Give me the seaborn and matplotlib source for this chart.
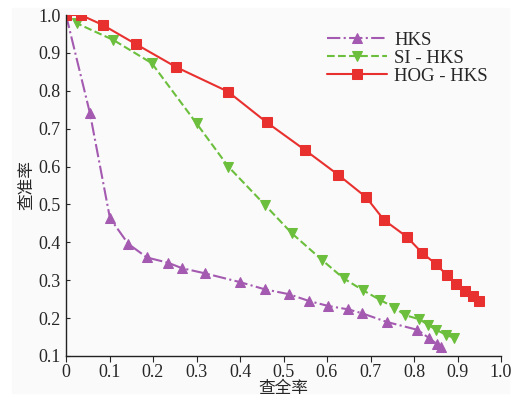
import matplotlib
matplotlib.use("Agg")
import matplotlib.pyplot as plt
import seaborn as sns
import pandas as pd

# recall (x) / precision (y)
hks_recall = [0.0, 0.055, 0.101, 0.143, 0.186, 0.235, 0.266, 0.32, 0.40, 0.457,
              0.513, 0.559, 0.603, 0.649, 0.68, 0.737, 0.808, 0.835, 0.852, 0.862]
hks_prec = [1.0, 0.741, 0.464, 0.396, 0.360, 0.346, 0.332, 0.318, 0.295, 0.276,
            0.263, 0.245, 0.232, 0.223, 0.213, 0.190, 0.169, 0.147, 0.132, 0.123]

si_recall = [0.0, 0.025, 0.109, 0.197, 0.30, 0.373, 0.457, 0.519, 0.588, 0.638,
             0.682, 0.722, 0.755, 0.779, 0.812, 0.833, 0.851, 0.874, 0.893]
si_prec = [1.0, 0.978, 0.934, 0.873, 0.714, 0.600, 0.499, 0.424, 0.354, 0.305,
           0.274, 0.248, 0.228, 0.208, 0.197, 0.182, 0.169, 0.156, 0.147]

hog_recall = [0.0, 0.034, 0.084, 0.161, 0.254, 0.372, 0.461, 0.549, 0.626, 0.690,
              0.731, 0.783, 0.818, 0.851, 0.875, 0.897, 0.917, 0.936, 0.950]
hog_prec = [1.0, 1.0, 0.974, 0.923, 0.862, 0.798, 0.717, 0.644, 0.578, 0.519,
            0.459, 0.415, 0.373, 0.342, 0.314, 0.290, 0.272, 0.259, 0.245]

series = ["HKS", "SI - HKS", "HOG - HKS"]
colors = ["#a45ab0", "#6cbf3c", "#e8312f"]
markers = ["^", "v", "s"]
styles = ["-.", "--", "-"]

df = pd.concat([
    pd.DataFrame({"recall": hks_recall, "precision": hks_prec, "method": series[0]}),
    pd.DataFrame({"recall": si_recall, "precision": si_prec, "method": series[1]}),
    pd.DataFrame({"recall": hog_recall, "precision": hog_prec, "method": series[2]}),
])

sns.set_style("ticks")
plt.rcParams["font.family"] = ["Liberation Serif", "Noto Sans CJK SC"]
plt.rcParams["axes.unicode_minus"] = False

fig = plt.figure(figsize=(5.22, 3.98), dpi=100, facecolor="white")
bg = plt.Rectangle((12 / 522, 1 - 393 / 398), 497 / 522, 385 / 398,
                   transform=fig.transFigure, color="#fafafa", zorder=-10)
fig.patches.append(bg)
ax = fig.add_axes([66 / 522, 1 - 356 / 398, 435 / 522, 341 / 398])
ax.set_facecolor("none")

for name, c, m, ls in zip(series, colors, markers, styles):
    sub = df[df["method"] == name]
    sns.lineplot(x="recall", y="precision", data=sub, ax=ax, color=c, marker=m,
                 linestyle=ls, linewidth=1.5, markersize=7.5, markeredgecolor=c,
                 label=name, sort=False, estimator=None)

ax.set_xlim(0, 1.0)
ax.set_ylim(0.1, 1.0)
ax.set_xticks([i / 10 for i in range(11)])
ax.set_xticklabels(["0"] + [f"{i / 10:.1f}" for i in range(1, 11)])
ax.set_yticks([i / 10 for i in range(1, 11)])
ax.set_yticklabels([f"{i / 10:.1f}" for i in range(1, 11)])
ax.tick_params(axis="x", direction="out", length=4, labelsize=13, pad=2)
ax.tick_params(axis="y", direction="in", length=3, labelsize=13, pad=4)
sns.despine(ax=ax)
for s in ["left", "bottom"]:
    ax.spines[s].set_color("#222222")
    ax.spines[s].set_linewidth(1.0)
ax.set_xlabel("查全率", fontsize=12, labelpad=0)
ax.set_ylabel("查准率", fontsize=12, labelpad=2)

ax.legend(loc="upper right", bbox_to_anchor=(1.0, 0.99), frameon=False,
          fontsize=13.5, handlelength=3.2, handletextpad=0.4, labelspacing=0.05,
          borderpad=0.2)

fig.savefig("out.png", dpi=100, facecolor="white")
